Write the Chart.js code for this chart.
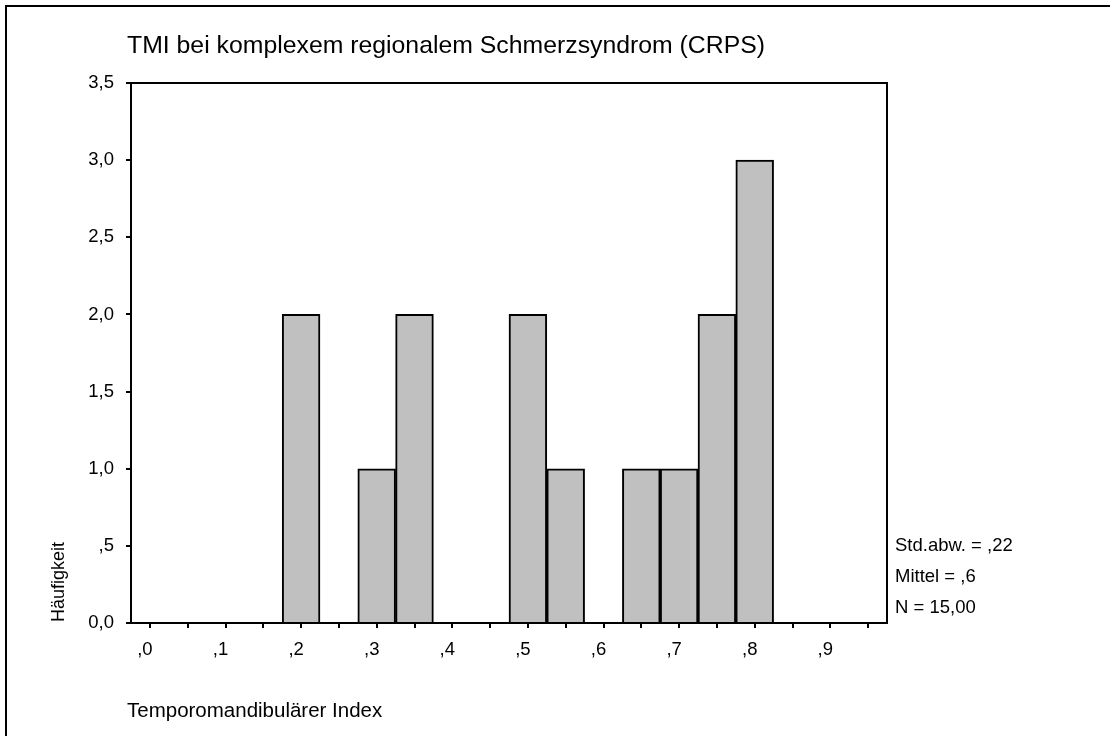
<!DOCTYPE html>
<html>
<head>
<meta charset="utf-8">
<script src="https://cdn.jsdelivr.net/npm/chart.js@4.4.1/dist/chart.umd.min.js"></script>
<style>
  html, body { margin: 0; padding: 0; background: #fff; }
  #tmi { display: block; }
</style>
</head>
<body>
<canvas id="tmi" width="1110" height="736"></canvas>
<script>
// TMI histogram (SPSS style)
const binCenters = [0, 0.05, 0.1, 0.15, 0.2, 0.25, 0.3, 0.35, 0.4, 0.45, 0.5, 0.55, 0.6, 0.65, 0.7, 0.75, 0.8, 0.85, 0.9, 0.95];
const counts = [0, 0, 0, 0, 2, 0, 1, 2, 0, 0, 2, 1, 0, 1, 1, 2, 3, 0, 0, 0];
const xTickLabels = [',0', ',1', ',2', ',3', ',4', ',5', ',6', ',7', ',8', ',9'];
const yTickLabels = ['0,0', ',5', '1,0', '1,5', '2,0', '2,5', '3,0', '3,5'];
const statLines = ['Std.abw. = ,22', 'Mittel = ,6', 'N = 15,00'];

const chartTitle = 'TMI bei komplexem regionalem Schmerzsyndrom (CRPS)';
const xTitle = 'Temporomandibulärer Index';
const yTitle = 'Häufigkeit';

const FONT = '"Liberation Sans", Arial, sans-serif';

// draws frame, titles and stats text
const extras = {
    id: 'extras',
    afterDraw(chart) {
        const ctx = chart.ctx;
        const a = chart.chartArea;
        ctx.save();
        ctx.strokeStyle = '#000';
        ctx.lineWidth = 2;
        ctx.strokeRect(a.left, a.top, a.right - a.left, a.bottom - a.top);

        // page border (left + top only)
        ctx.beginPath();
        ctx.moveTo(6, 736);
        ctx.lineTo(6, 6);
        ctx.lineTo(1110, 6);
        ctx.stroke();

        ctx.fillStyle = '#000';
        ctx.textBaseline = 'middle';
        ctx.textAlign = 'left';
        ctx.font = '24.8px ' + FONT;
        ctx.fillText(chartTitle, 127, 46);

        ctx.font = '20.5px ' + FONT;
        ctx.fillText(xTitle, 127, 711);

        ctx.font = '18.5px ' + FONT;
        statLines.forEach((s, i) => ctx.fillText(s, 895, 546 + i * 31));

        ctx.translate(59, 622);
        ctx.rotate(-Math.PI / 2);
        ctx.font = '18px ' + FONT;
        ctx.fillText(yTitle, 0, 0);
        ctx.restore();
    }
};

new Chart(document.getElementById('tmi'), {
    type: 'bar',
    data: {
        labels: binCenters,
        datasets: [{
            data: counts,
            backgroundColor: '#c0c0c0',
            borderColor: '#000',
            borderWidth: 2,
            categoryPercentage: 1,
            barPercentage: 1
        }]
    },
    options: {
        responsive: false,
        animation: false,
        devicePixelRatio: 1,
        layout: { padding: { top: 83, right: 223, left: 0, bottom: 0 } },
        plugins: {
            legend: { display: false },
            tooltip: { enabled: false }
        },
        scales: {
            x: {
                grid: {
                    offset: false,
                    drawOnChartArea: false,
                    tickLength: 5,
                    color: '#000',
                    lineWidth: 2
                },
                border: { color: '#000', width: 2 },
                ticks: {
                    autoSkip: false,
                    maxRotation: 0,
                    color: '#000',
                    padding: 11,
                    labelOffset: -5,
                    font: { family: FONT, size: 18.5 },
                    callback: (v, i) => (i % 2 === 0 ? xTickLabels[i / 2] : '')
                },
                afterFit: (s) => { s.height = 113; }
            },
            y: {
                min: 0,
                max: 3.5,
                grid: {
                    drawOnChartArea: false,
                    tickLength: 5,
                    color: '#000',
                    lineWidth: 2
                },
                border: { color: '#000', width: 2 },
                ticks: {
                    stepSize: 0.5,
                    color: '#000',
                    padding: 12,
                    font: { family: FONT, size: 18.5 },
                    callback: (v, i) => yTickLabels[i]
                },
                afterFit: (s) => { s.width = 131; }
            }
        }
    },
    plugins: [extras]
});
</script>
</body>
</html>
